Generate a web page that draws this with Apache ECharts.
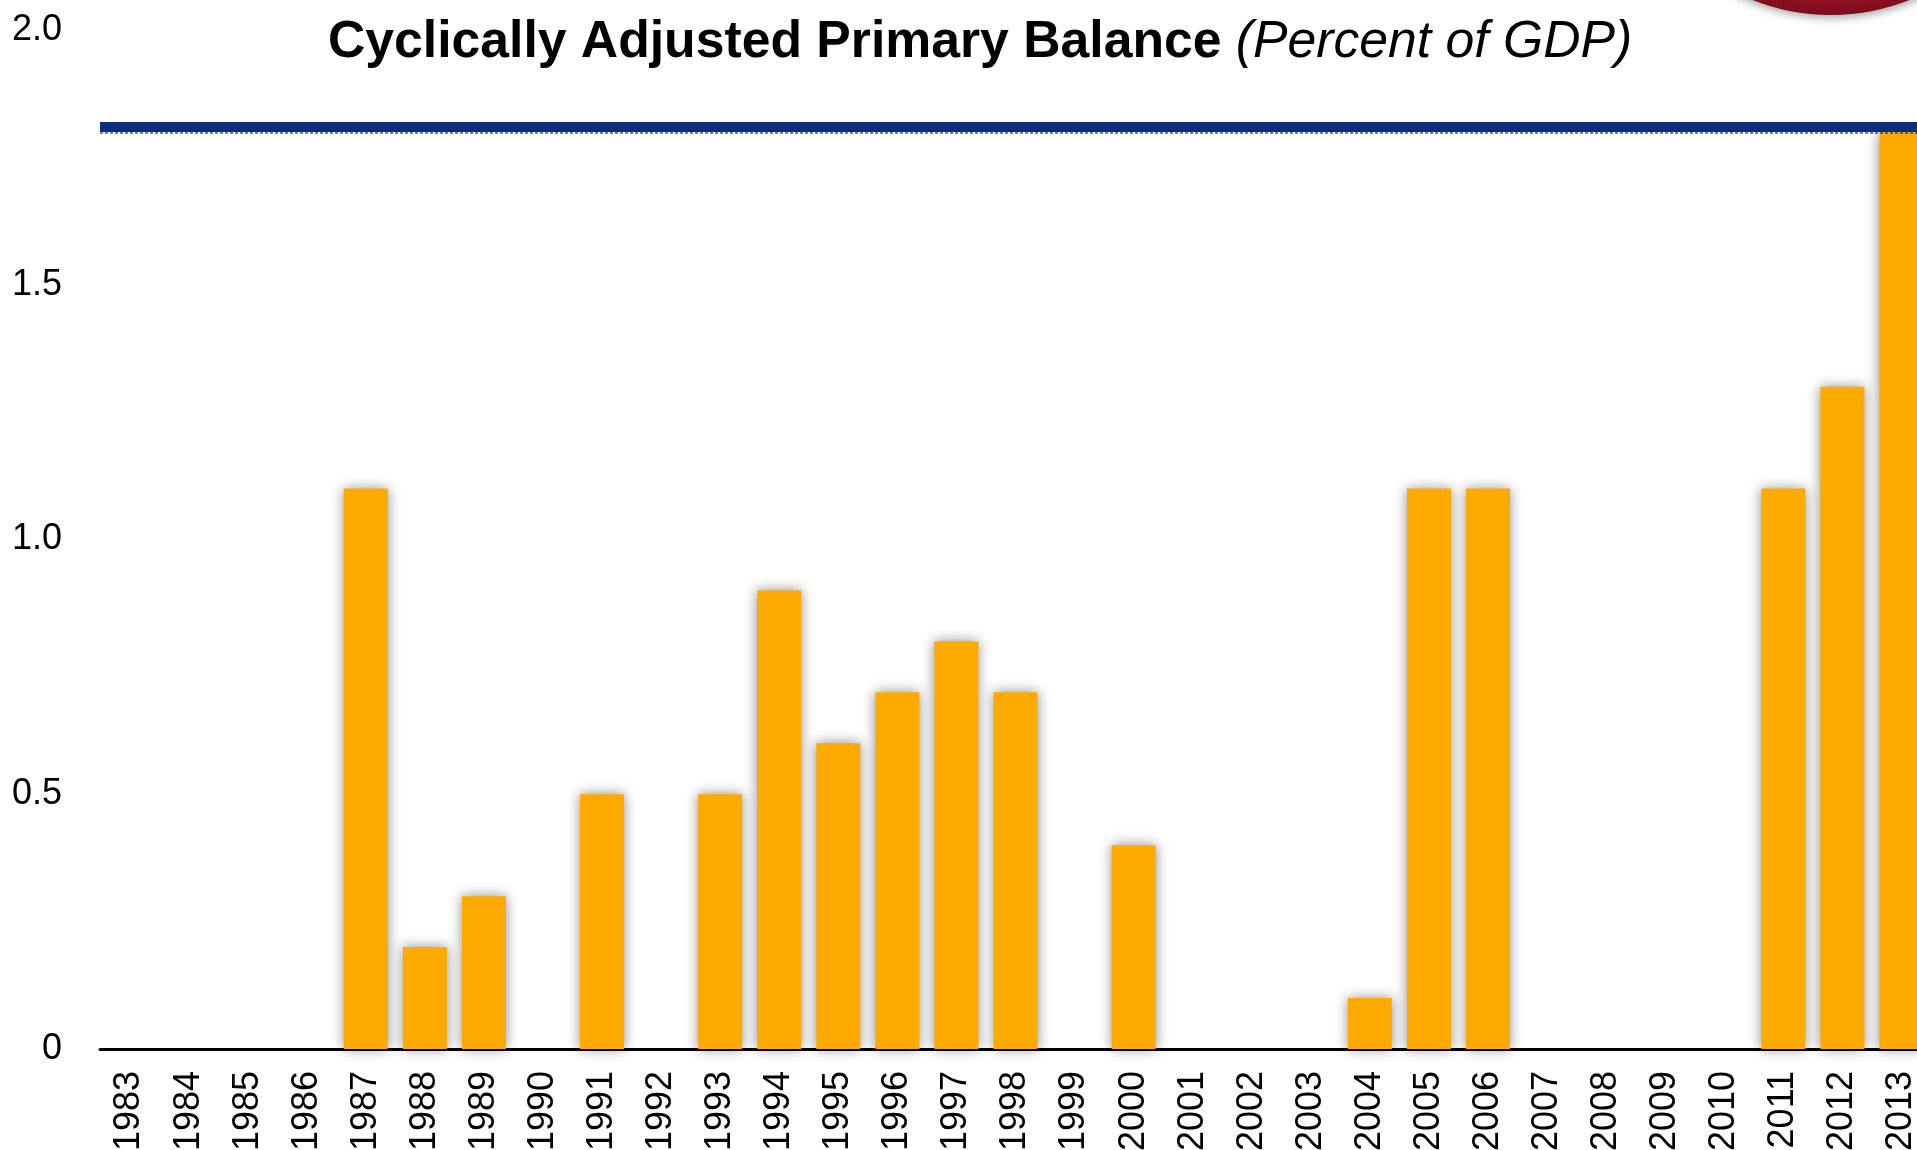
<!DOCTYPE html>
<html>
<head>
<meta charset="utf-8">
<script src="https://cdn.jsdelivr.net/npm/echarts@6/dist/echarts.min.js"></script>
<style>
  html, body { margin: 0; padding: 0; background: #fff; }
  #chart { width: 1917px; height: 1150px; }
</style>
</head>
<body>
<div id="chart"></div>
<script>
// years on the x axis
const years = ['1983','1984','1985','1986','1987','1988','1989','1990','1991','1992',
  '1993','1994','1995','1996','1997','1998','1999','2000','2001','2002',
  '2003','2004','2005','2006','2007','2008','2009','2010','2011','2012','2013'];
// cyclically adjusted primary balance, % of GDP (0 = no bar)
const balance = [0, 0, 0, 0, 1.1, 0.2, 0.3, 0, 0.5, 0,
  0.5, 0.9, 0.6, 0.7, 0.8, 0.7, 0, 0.4, 0, 0,
  0, 0.1, 1.1, 1.1, 0, 0, 0, 0, 1.1, 1.3, 1.8];
// the blue reference level drawn across the chart
const referenceLevel = 1.815;
const yTicks = [0, 0.5, 1.0, 1.5, 2.0];

const FONT = '"Liberation Sans", Arial, Helvetica, sans-serif';
const NAVY = '#0b2f7d';

let chart = echarts.init(document.getElementById('chart'));

const option = {
  backgroundColor: '#fff',
  animation: false,
  title: {
    left: 323,
    top: 8,
    text: '{b|Cyclically Adjusted Primary Balance}{i| (Percent of GDP)}',
    textStyle: {
      rich: {
        b: { fontFamily: FONT, fontSize: 51.7, fontWeight: 'bold', color: '#000', lineHeight: 60 },
        i: { fontFamily: FONT, fontSize: 51.7, fontWeight: 'normal', fontStyle: 'italic', color: '#000', lineHeight: 60 }
      }
    }
  },
  graphic: [
    {
      // red round badge peeking in at the top right
      type: 'circle',
      shape: { cx: 1831, cy: -198, r: 213 },
      style: {
        fill: {
          type: 'radial', x: 0.5, y: 0.35, r: 0.65,
          colorStops: [
            { offset: 0, color: '#d8283f' },
            { offset: 0.85, color: '#b3172d' },
            { offset: 1, color: '#7d0d1c' }
          ]
        },
        shadowBlur: 8,
        shadowColor: 'rgba(0,0,0,0.35)',
        shadowOffsetY: 3
      },
      z: 10
    }
  ],
  grid: {
    left: 100,
    width: 1831,
    top: 30,
    bottom: 101,
    containLabel: false,
    outerBoundsMode: 'none'
  },
  xAxis: {
    type: 'category',
    data: years,
    axisLine: { show: true, lineStyle: { color: '#000', width: 3 } },
    axisTick: { show: false },
    axisLabel: {
      rotate: 90,
      interval: 0,
      margin: 22,
      color: '#000',
      fontFamily: FONT,
      fontSize: 36
    }
  },
  yAxis: {
    type: 'value',
    min: 0,
    max: 2.0,
    interval: 0.5,
    axisLine: { show: false },
    axisTick: { show: false },
    splitLine: { show: false },
    axisLabel: {
      margin: 38,
      color: '#000',
      fontFamily: FONT,
      fontSize: 36,
      formatter: function (v) {
        return yTicks.indexOf(v) < 0 ? '' : (v === 0 ? '0' : v.toFixed(1));
      }
    }
  },
  series: [
    {
      type: 'bar',
      data: balance,
      barWidth: 44,
      itemStyle: {
        color: '#ffaa00',
        shadowBlur: 12,
        shadowColor: 'rgba(0,0,0,0.45)'
      },
      markLine: {
        silent: true,
        symbol: 'none',
        label: { show: false },
        z: 5,
        data: [
          { yAxis: referenceLevel, lineStyle: { color: NAVY, width: 10, type: 'solid' } },
          // ragged lower edge of the hand-drawn stroke
          { yAxis: referenceLevel - 0.011, lineStyle: { color: NAVY, width: 4, type: [3, 2], opacity: 0.6 } }
        ]
      }
    }
  ]
};

chart.setOption(option);
</script>
</body>
</html>
